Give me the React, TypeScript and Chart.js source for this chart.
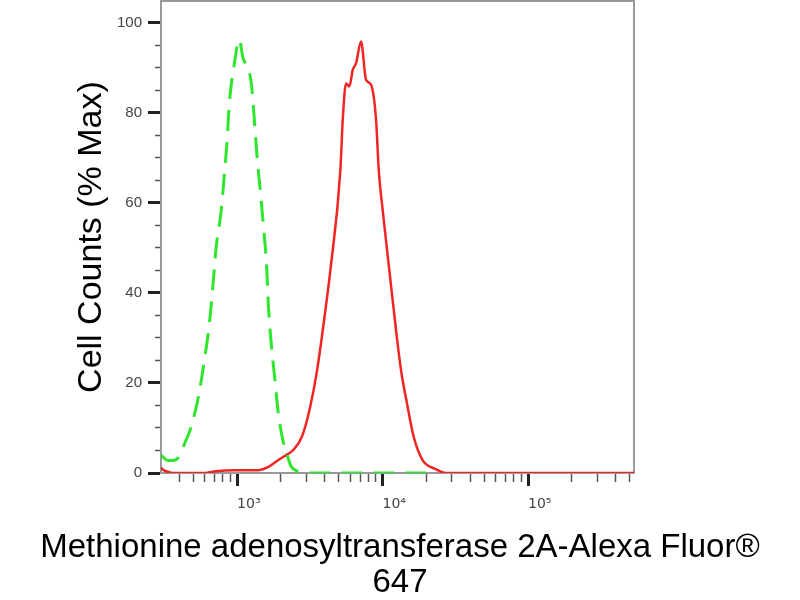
import React, { useEffect, useRef } from 'react';
import { Chart, registerables } from 'chart.js';

Chart.register(...registerables);

// Isotype control (green dashed)
const GREEN_X = [300, 309, 334, 361, 391, 446, 483, 542, 596, 645, 681, 717, 776, 810, 854, 885, 954, 1037, 1094, 1248, 1315, 1372, 1446, 1526, 1600, 1641, 1713, 1816, 1922, 2114, 2230, 2350, 2754, 3500, 21000];
const GREEN_Y = [4.0, 3.6, 2.8, 2.8, 3.3, 7.3, 10.2, 16.9, 25, 33.2, 41.3, 49.9, 58, 64.7, 73.9, 82.1, 90.5, 96.2, 92.4, 86.9, 78.4, 70.2, 62.4, 54, 45.4, 37.3, 29.1, 21, 13.2, 5.8, 3.6, 1.5, 0.3, 0, 0];

// Methionine adenosyltransferase 2A stained (red)
const RED_X = [300, 308, 340, 381, 600, 717, 958, 1387, 1625, 1904, 2172, 2414, 2784, 3140, 3546, 3881, 4377, 5128, 5325, 5610, 5910, 6240, 6573, 7115, 7700, 8337, 9027, 9417, 10025, 11134, 12380, 13400, 14735, 16387, 18894, 22700, 27320, 535000];
const RED_Y = [1.2, 0.8, 0.2, 0, 0, 0.4, 0.6, 0.6, 1.3, 2.8, 4, 5, 8, 13.9, 22.8, 31.7, 45, 67.2, 78.4, 86.5, 85.8, 89.5, 91, 95.8, 87.3, 86.2, 78.4, 67.2, 58.3, 45, 31.7, 22.8, 15.4, 8, 2.8, 1, 0, 0];

// Axis ticks
const X_TICKS = [400, 500, 600, 700, 800, 900, 1000, 2000, 3000, 4000, 5000, 6000, 7000, 8000, 9000, 10000, 20000, 30000, 40000, 50000, 60000, 70000, 80000, 90000, 100000, 200000, 300000, 400000, 500000];
const X_MAJOR_VALUES = [1000, 10000, 100000];
const X_MAJOR_LABELS = ['10³', '10⁴', '10⁵'];
const Y_LABEL_VALUES = [0, 20, 40, 60, 80, 100];

const X_TITLE = ['Methionine adenosyltransferase 2A-Alexa Fluor®', '647'];
const Y_TITLE = 'Cell Counts (% Max)';

const FONT = "'Liberation Sans', Arial, Helvetica, sans-serif";
const TICK_FONT = "'DejaVu Sans', 'Liberation Sans', Arial, sans-serif";
const RED = '#f22525';
const GREEN = '#2ee62e';
const FRAME = '#9a9a9a';

export default function App() {
  const ref = useRef<HTMLCanvasElement>(null);

  useEffect(() => {
    const canvas = ref.current;
    if (!canvas) return;
    const isXMajor = (ctx: any) => !!ctx.tick && X_MAJOR_VALUES.includes(ctx.tick.value);
    const isYMajor = (ctx: any) => !!ctx.tick && Y_LABEL_VALUES.includes(ctx.tick.value);

    const chart = new Chart(canvas, {
      type: 'line',
      data: {
        datasets: [
          {
            label: 'Isotype control',
            data: GREEN_X.map((x, i) => ({ x, y: GREEN_Y[i] })),
            borderColor: GREEN,
            borderWidth: 3,
            borderDash: [21, 11],
            pointRadius: 0,
            fill: false,
            cubicInterpolationMode: 'monotone',
            xAxisID: 'x',
            yAxisID: 'y',
          },
          {
            label: 'MAT2A',
            data: RED_X.map((x, i) => ({ x, y: RED_Y[i] })),
            borderColor: RED,
            borderWidth: 2.5,
            pointRadius: 0,
            fill: false,
            cubicInterpolationMode: 'monotone',
            xAxisID: 'x',
            yAxisID: 'y',
          },
        ],
      },
      options: {
        animation: false,
        responsive: false,
        events: [],
        layout: { padding: { top: 1, left: 0, right: 0, bottom: 0 } },
        plugins: {
          legend: { display: false },
          tooltip: { enabled: false },
          title: {
            display: true,
            position: 'bottom',
            fullSize: true,
            text: X_TITLE,
            color: '#000',
            font: { family: FONT, size: 33, weight: 'normal', lineHeight: 1.06 },
            padding: { top: 2, bottom: 0 },
          },
        },
        scales: {
          x: {
            type: 'logarithmic',
            position: 'bottom',
            min: 300,
            max: 535000,
            afterBuildTicks: (s: any) => {
              s.ticks = X_TICKS.map((v) => ({ value: v }));
            },
            afterFit: (s: any) => {
              s.height = 55;
              s.paddingLeft = 0;
              s.paddingRight = 0;
            },
            ticks: {
              autoSkip: false,
              maxRotation: 0,
              minRotation: 0,
              align: 'start',
              padding: 10,
              color: '#444',
              font: { family: TICK_FONT, size: 14 },
              callback: (v: any) => {
                const k = X_MAJOR_VALUES.indexOf(Number(v));
                return k >= 0 ? X_MAJOR_LABELS[k] : '';
              },
            },
            grid: {
              display: true,
              drawOnChartArea: false,
              drawTicks: true,
              tickLength: 13,
              tickWidth: (ctx: any) => (isXMajor(ctx) ? 3 : 1.5),
              tickColor: (ctx: any) => (isXMajor(ctx) ? '#222' : '#555'),
              tickBorderDash: (ctx: any) => (isXMajor(ctx) ? [] : [8, 20]),
            },
            border: { display: true, color: FRAME, width: 2 },
          },
          y: {
            type: 'linear',
            position: 'left',
            min: 0,
            max: 104.8,
            afterFit: (s: any) => {
              s.width = 161;
              s.paddingTop = 0;
              s.paddingBottom = 0;
            },
            ticks: {
              stepSize: 5,
              autoSkip: false,
              includeBounds: false,
              padding: 6,
              color: '#444',
              font: { family: FONT, size: 15 },
              callback: (v: any) => (Y_LABEL_VALUES.includes(Number(v)) ? String(v) : ''),
            },
            title: {
              display: true,
              text: Y_TITLE,
              color: '#000',
              font: { family: FONT, size: 34, weight: 'normal' },
              padding: { top: 71, bottom: 0 },
            },
            grid: {
              display: true,
              drawOnChartArea: false,
              drawTicks: true,
              tickLength: 13,
              tickWidth: (ctx: any) => (isYMajor(ctx) ? 3 : 1.5),
              tickColor: (ctx: any) => (isYMajor(ctx) ? '#222' : '#555'),
              tickBorderDash: (ctx: any) => (isYMajor(ctx) ? [] : [0, 7, 6, 0]),
            },
            border: { display: true, color: FRAME, width: 2 },
          },
          xTop: {
            type: 'linear',
            position: 'top',
            min: 0,
            max: 1,
            afterFit: (s: any) => {
              s.height = 0;
              s.paddingLeft = 0;
              s.paddingRight = 0;
            },
            ticks: { display: false },
            grid: { display: true, drawOnChartArea: false, drawTicks: false },
            border: { display: true, color: FRAME, width: 2 },
          },
          yRight: {
            type: 'linear',
            position: 'right',
            min: 0,
            max: 1,
            afterFit: (s: any) => {
              s.width = 166;
              s.paddingTop = 0;
              s.paddingBottom = 0;
            },
            ticks: { display: false },
            grid: { display: true, drawOnChartArea: false, drawTicks: false },
            border: { display: true, color: FRAME, width: 2 },
          },
        },
      } as any,
    });

    return () => {
      chart.destroy();
    };
  }, []);

  return (
    <div style={{ position: 'absolute', left: 0, top: 0, width: 800, height: 600, background: '#fff' }}>
      <canvas ref={ref} width={800} height={600} style={{ display: 'block' }} />
    </div>
  );
}
